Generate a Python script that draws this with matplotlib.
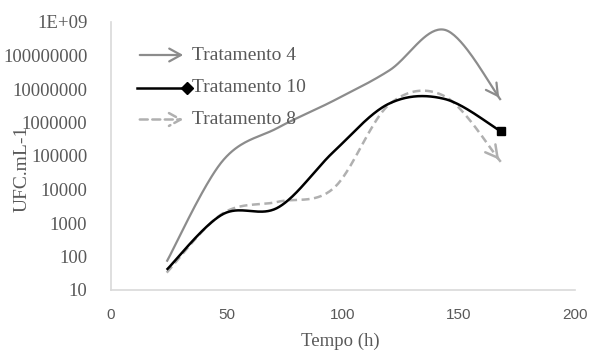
import numpy as np
import matplotlib
matplotlib.use("Agg")
import matplotlib.pyplot as plt
from matplotlib.patches import FancyArrowPatch
from matplotlib.lines import Line2D

# ---- data ----
tempo = [24, 48, 72, 96, 120, 144, 168]
trat4 = [70, 7e4, 7e5, 4.5e6, 3.6e7, 5.8e8, 4.7e6]
trat10 = [40, 1800, 2900, 1.35e5, 3.7e6, 5.0e6, 5.4e5]
trat8 = [33, 1900, 4300, 1.1e4, 3.5e6, 6.0e6, 6.7e4]
names = ["Tratamento 4", "Tratamento 10", "Tratamento 8"]
yticks = [10, 100, 1000, 10000, 100000, 1000000, 10000000, 100000000, 1e9]
ylabels = ["10", "100", "1000", "10000", "100000", "1000000", "10000000", "100000000", "1E+09"]
xticks = [0, 50, 100, 150, 200]

TXT = "#595959"
SERIF = "Liberation Serif"


def smooth(xs, ys, n=40):
    """Excel-like smoothed line: cubic Bezier through points, computed in (x, log y)."""
    x = np.asarray(xs, float)
    y = np.log10(np.asarray(ys, float))
    P = np.column_stack([x, y])
    m = len(P)
    out = [P[0]]
    t = np.linspace(0, 1, n)[1:, None]
    for i in range(m - 1):
        p0 = P[i - 1] if i > 0 else P[i]
        p1 = P[i]
        p2 = P[i + 1]
        p3 = P[i + 2] if i + 2 < m else P[i + 1]
        c1 = p1 + (p2 - p0) / 6.0
        c2 = p2 - (p3 - p1) / 6.0
        seg = ((1 - t) ** 3) * p1 + 3 * ((1 - t) ** 2) * t * c1 + 3 * (1 - t) * t ** 2 * c2 + t ** 3 * p2
        out.extend(seg)
    out = np.array(out)
    return out[:, 0], 10 ** out[:, 1]


fig = plt.figure(figsize=(5.9, 3.51), dpi=100)
ax = fig.add_axes([111 / 590, 1 - 290 / 351, (575 - 111) / 590, (290 - 22) / 351])
ax.set_yscale("log")
ax.set_xlim(0, 200)
ax.set_ylim(10, 1e9)

ARROW = "->,head_length=0.6,head_width=0.33"
styles = [
    dict(color="#8c8c8c", lw=1.6, ls="-"),
    dict(color="#000000", lw=1.8, ls="-"),
    dict(color="#b0b0b0", lw=1.8, ls=(0, (3.2, 1.8))),
]
series = [trat4, trat10, trat8]
for k, (vals, st) in enumerate(zip(series, styles)):
    sx, sy = smooth(tempo, vals)
    ax.plot(sx, sy, color=st["color"], lw=st["lw"], ls=st["ls"], solid_capstyle="butt",
            zorder=3 if k == 1 else 2)
    if k == 1:
        ax.plot([tempo[-1]], [vals[-1]], marker="s", ms=6, color="black", zorder=4)
    else:
        arr = FancyArrowPatch((sx[-6], sy[-6]), (sx[-1], sy[-1]), arrowstyle=ARROW,
                              mutation_scale=14, color=st["color"], lw=st["lw"], zorder=2)
        ax.add_patch(arr)

for side in ["top", "right"]:
    ax.spines[side].set_visible(False)
for side in ["left", "bottom"]:
    ax.spines[side].set_color("#d9d9d9")
    ax.spines[side].set_linewidth(1.2)

ax.set_yticks(yticks)
ax.set_yticklabels(ylabels, fontfamily=SERIF, fontsize=13.5, color=TXT)
ax.yaxis.set_minor_locator(matplotlib.ticker.NullLocator())
ax.set_xticks(xticks)
ax.set_xticklabels([str(v) for v in xticks], fontfamily="Liberation Sans", fontsize=11, color=TXT)
ax.tick_params(axis="both", length=0)
ax.tick_params(axis="y", pad=17)
ax.tick_params(axis="x", pad=13)

fig.text(340 / 590, 1 - 341 / 351, "Tempo (h)", ha="center", va="center",
         fontfamily=SERIF, fontsize=13.5, color=TXT)
fig.text(22 / 590, 1 - 169 / 351, "UFC.mL-1", ha="center", va="center", rotation=90,
         fontfamily=SERIF, fontsize=14, color=TXT)

# ---- legend (drawn manually, figure pixel coords) ----
def fx(px):
    return px / 590


def fy(py):
    return 1 - py / 351

leg_y = [55, 87.5, 119.5]
for k, (name, st) in enumerate(zip(names, styles)):
    yy = fy(leg_y[k])
    x0, x1 = fx(137), fx(186)
    if k == 1:
        fig.add_artist(Line2D([x0, fx(187)], [yy, yy], transform=fig.transFigure,
                              color=st["color"], lw=st["lw"]))
        fig.add_artist(Line2D([fx(187)], [yy], transform=fig.transFigure, marker="D", ms=6,
                              color="black"))
    else:
        arr = FancyArrowPatch((x0, yy), (x1, yy), transform=fig.transFigure, arrowstyle=ARROW,
                              mutation_scale=14, color=st["color"], lw=st["lw"], ls=st["ls"])
        fig.add_artist(arr)
    fig.text(fx(192.5), yy, name, ha="left", va="center", fontfamily=SERIF,
             fontsize=14, color=TXT)

fig.savefig("out.png", dpi=100)
